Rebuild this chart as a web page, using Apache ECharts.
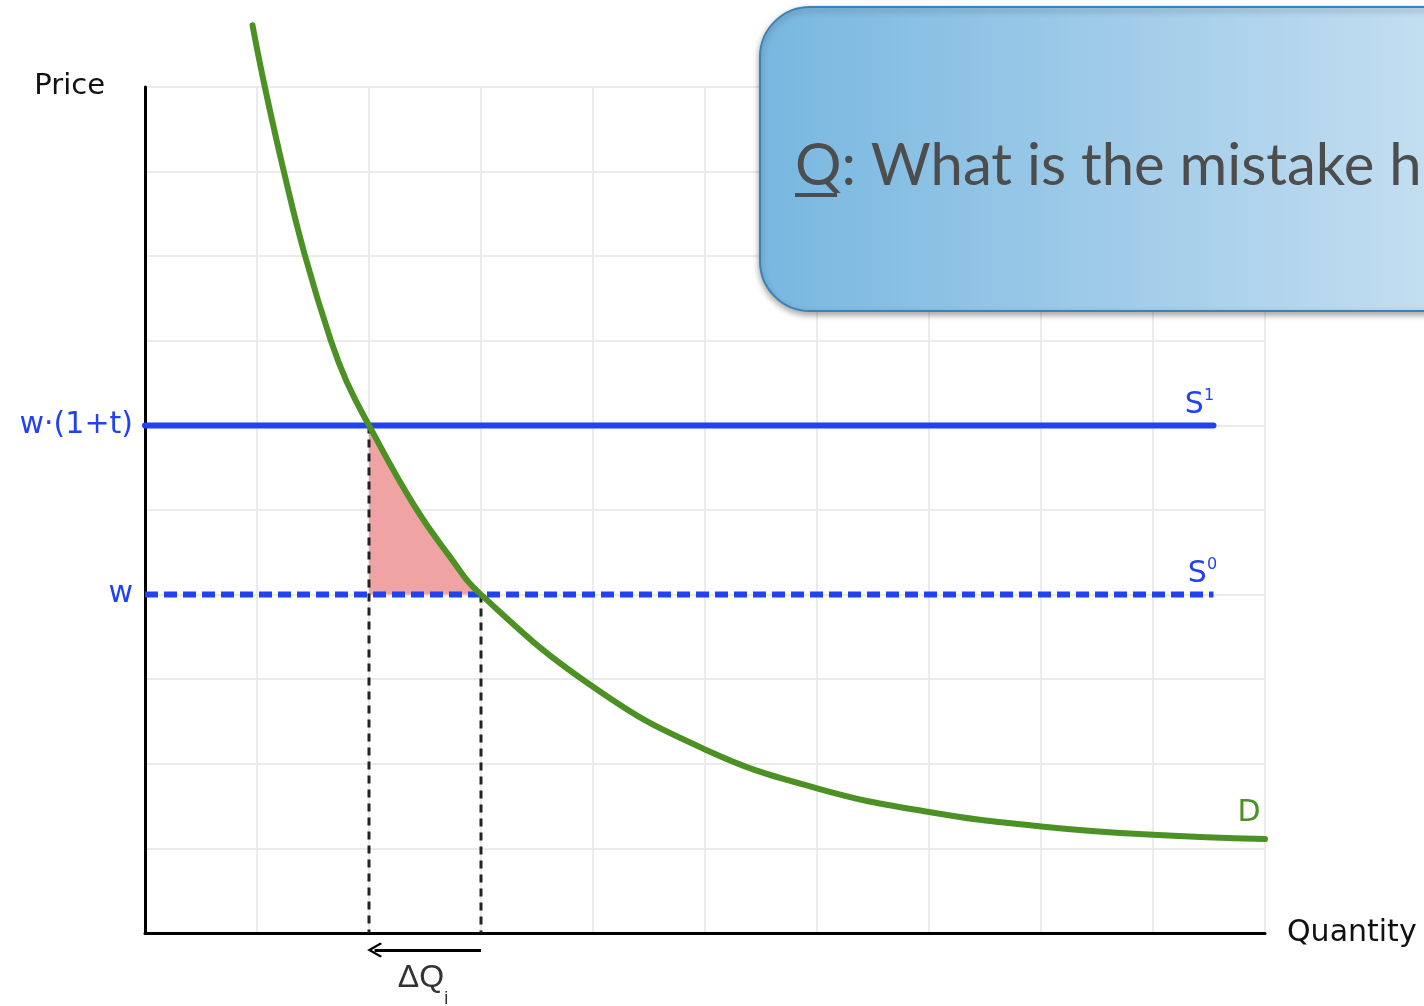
<!DOCTYPE html>
<html>
<head>
<meta charset="utf-8">
<title>Tax on a good: supply shift and deadweight loss</title>
<script src="https://cdn.jsdelivr.net/npm/echarts@6/dist/echarts.min.js"></script>
<style>
  html, body { margin: 0; padding: 0; background: #ffffff; overflow: hidden; }
  #chart { width: 1424px; height: 1006px; }
</style>
</head>
<body>
<div id="chart"></div>
<script>
// Demand curve D, read as (quantity, price) pairs
const demandQty   = [0.96, 1.07, 1.24, 1.43, 1.66, 1.8, 2.0, 2.4, 2.71, 3.0, 4.0, 5.0, 6.0, 7.0, 8.0, 9.0, 10.0];
const demandPrice = [10.73, 10.0, 9.0, 8.0, 7.0, 6.52, 6.0, 5.06, 4.47, 4.0, 2.91, 2.17, 1.71, 1.43, 1.26, 1.16, 1.11];

// Supply curves: S0 at the wage w, S1 at w·(1+t)
const basePrice = 4;
const taxedPrice = 6;
const supplyStartQty = 0;
const supplyEndQty = 9.54;

// Quantities demanded at each supply price
const qtyTaxed = 2;
const qtyBase = 3;

// Price axis tick labels
const priceTicks = [4, 6];
const priceTickLabels = ['w', 'w·(1+t)'];

// Axis extents
const qtyMax = 10;
const priceMax = 10;

const BLUE = '#2142f3';
const GREEN = '#4b9124';
const FILL = '#efa3a3';

// Demand points that bound the shaded loss area
const lossArea = demandQty
  .map((q, i) => [q, demandPrice[i]])
  .filter(p => p[0] >= qtyTaxed && p[0] <= qtyBase);

const demandData = demandQty.map((q, i) => [q, demandPrice[i]]);

const supRich = {
  s: { fontFamily: 'DejaVu Sans', fontSize: 30, color: BLUE, lineHeight: 32, verticalAlign: 'bottom' },
  p: { fontFamily: 'DejaVu Sans', fontSize: 16, color: BLUE, lineHeight: 20, verticalAlign: 'top' }
};

const chart = echarts.init(document.getElementById('chart'), null, { renderer: 'canvas' });

const option = {
  animation: false,
  backgroundColor: '#ffffff',
  grid: { left: 145, right: 159, top: 87, bottom: 73 },
  xAxis: {
    type: 'value',
    min: 0, max: qtyMax, interval: 1,
    name: 'Quantity',
    nameLocation: 'end',
    nameGap: 22,
    nameTextStyle: {
      fontFamily: 'DejaVu Sans', fontSize: 30, color: '#111111',
      align: 'left', verticalAlign: 'middle', padding: [0, 0, 12, 0]
    },
    axisLine: { show: true, onZero: false, lineStyle: { color: '#000000', width: 3 } },
    axisTick: { show: false },
    axisLabel: { show: false },
    splitLine: { show: true, lineStyle: { color: '#ebebeb', width: 2 } }
  },
  yAxis: {
    type: 'value',
    min: 0, max: priceMax, interval: 1,
    name: 'Price',
    nameLocation: 'end',
    nameGap: 1,
    nameTextStyle: {
      fontFamily: 'DejaVu Sans', fontSize: 29, color: '#111111',
      align: 'right', verticalAlign: 'middle', padding: [0, 40, 0, 0]
    },
    axisLine: { show: true, onZero: false, lineStyle: { color: '#000000', width: 3 } },
    axisTick: { show: false },
    axisLabel: {
      show: true,
      margin: 12,
      color: BLUE,
      fontFamily: 'DejaVu Sans',
      fontSize: 30,
      formatter: v => {
        const k = priceTicks.indexOf(v);
        return k >= 0 ? priceTickLabels[k] : '';
      }
    },
    splitLine: { show: true, lineStyle: { color: '#ebebeb', width: 2 } }
  },
  series: [
    {
      // shaded deadweight-loss area between the two supply prices
      name: 'loss',
      type: 'line',
      data: lossArea,
      smooth: 0.4,
      symbol: 'none',
      lineStyle: { width: 0, opacity: 0 },
      areaStyle: { color: FILL, opacity: 1, origin: basePrice },
      z: 2
    },
    {
      name: 'drop-taxed',
      type: 'line',
      data: [[qtyTaxed, taxedPrice], [qtyTaxed, 0]],
      symbol: 'none',
      lineStyle: { color: '#222222', width: 3, type: [8, 6] },
      z: 3
    },
    {
      name: 'drop-base',
      type: 'line',
      data: [[qtyBase, basePrice], [qtyBase, 0]],
      symbol: 'none',
      lineStyle: { color: '#222222', width: 3, type: [8, 6] },
      z: 3
    },
    {
      name: 'S1',
      type: 'line',
      data: [[supplyStartQty, taxedPrice], [supplyEndQty, taxedPrice]],
      symbol: 'none',
      lineStyle: { color: BLUE, width: 6, cap: 'round' },
      z: 4
    },
    {
      name: 'S0',
      type: 'line',
      data: [[supplyStartQty, basePrice], [supplyEndQty, basePrice]],
      symbol: 'none',
      lineStyle: { color: BLUE, width: 6, type: [13, 6], cap: 'butt' },
      z: 4
    },
    {
      name: 'D',
      type: 'line',
      data: demandData,
      smooth: 0.45,
      clip: false,
      symbol: 'none',
      lineStyle: { color: GREEN, width: 6, cap: 'round' },
      z: 5
    },
    {
      // arrow for the fall in quantity, drawn just below the axis
      name: 'dq-arrow',
      type: 'lines',
      coordinateSystem: 'cartesian2d',
      clip: false,
      silent: true,
      symbol: ['none', 'path://M50,0 L100,58 L90,66 L50,20 L10,66 L0,58 Z'],
      symbolSize: [18, 15],
      lineStyle: { color: '#000000', width: 3, opacity: 1, curveness: 0 },
      data: [{ coords: [[qtyBase, -0.2], [qtyTaxed + 0.05, -0.2]] }],
      z: 6
    },
    {
      // curve names and the ΔQ annotation
      name: 'annotations',
      type: 'scatter',
      clip: false,
      silent: true,
      symbolSize: 1,
      itemStyle: { color: 'rgba(0,0,0,0)', opacity: 1 },
      z: 6,
      data: [
        {
          value: [supplyEndQty, taxedPrice],
          label: {
            show: true, position: 'top', distance: 5, offset: [-14, 0],
            formatter: '{s|S}{p|1}', rich: supRich
          }
        },
        {
          value: [supplyEndQty, basePrice],
          label: {
            show: true, position: 'top', distance: 5, offset: [-11, 0],
            formatter: '{s|S}{p|0}', rich: supRich
          }
        },
        {
          value: [demandQty[demandQty.length - 1], demandPrice[demandPrice.length - 1]],
          label: {
            show: true, position: 'top', distance: 10, offset: [-16, 0],
            formatter: 'D',
            fontFamily: 'DejaVu Sans', fontSize: 30, color: GREEN
          }
        },
        {
          value: [(qtyTaxed + qtyBase) / 2, -0.62],
          label: {
            show: true, position: 'inside', offset: [-2, 0],
            formatter: '{a|ΔQ}{b|i}',
            rich: {
              a: { fontFamily: 'Liberation Sans', fontSize: 32, color: '#333333', lineHeight: 34, verticalAlign: 'top' },
              b: { fontFamily: 'Liberation Sans', fontSize: 18, color: '#333333', lineHeight: 46, verticalAlign: 'bottom' }
            }
          }
        }
      ]
    }
  ],
  graphic: [
    {
      // question callout
      type: 'rect',
      z: 100,
      shape: { x: 760, y: 7, width: 720, height: 304, r: 50 },
      style: {
        fill: new echarts.graphic.LinearGradient(0, 0, 1, 0, [
          { offset: 0, color: '#78b7e0' },
          { offset: 1, color: '#c9e1f2' }
        ]),
        stroke: '#3b82b8',
        lineWidth: 2,
        shadowBlur: 6,
        shadowOffsetY: 3,
        shadowColor: 'rgba(0,0,0,0.35)'
      }
    },
    {
      type: 'text',
      z: 101,
      style: {
        x: 795, y: 166,
        text: 'Q: What is the mistake here?',
        fontFamily: 'Lato',
        fontSize: 58,
        fill: '#4d4d4d',
        verticalAlign: 'middle',
        align: 'left'
      }
    },
    {
      type: 'rect',
      z: 101,
      shape: { x: 795, y: 193, width: 42, height: 4 },
      style: { fill: '#4d4d4d' }
    }
  ]
};

chart.setOption(option);
</script>
</body>
</html>
